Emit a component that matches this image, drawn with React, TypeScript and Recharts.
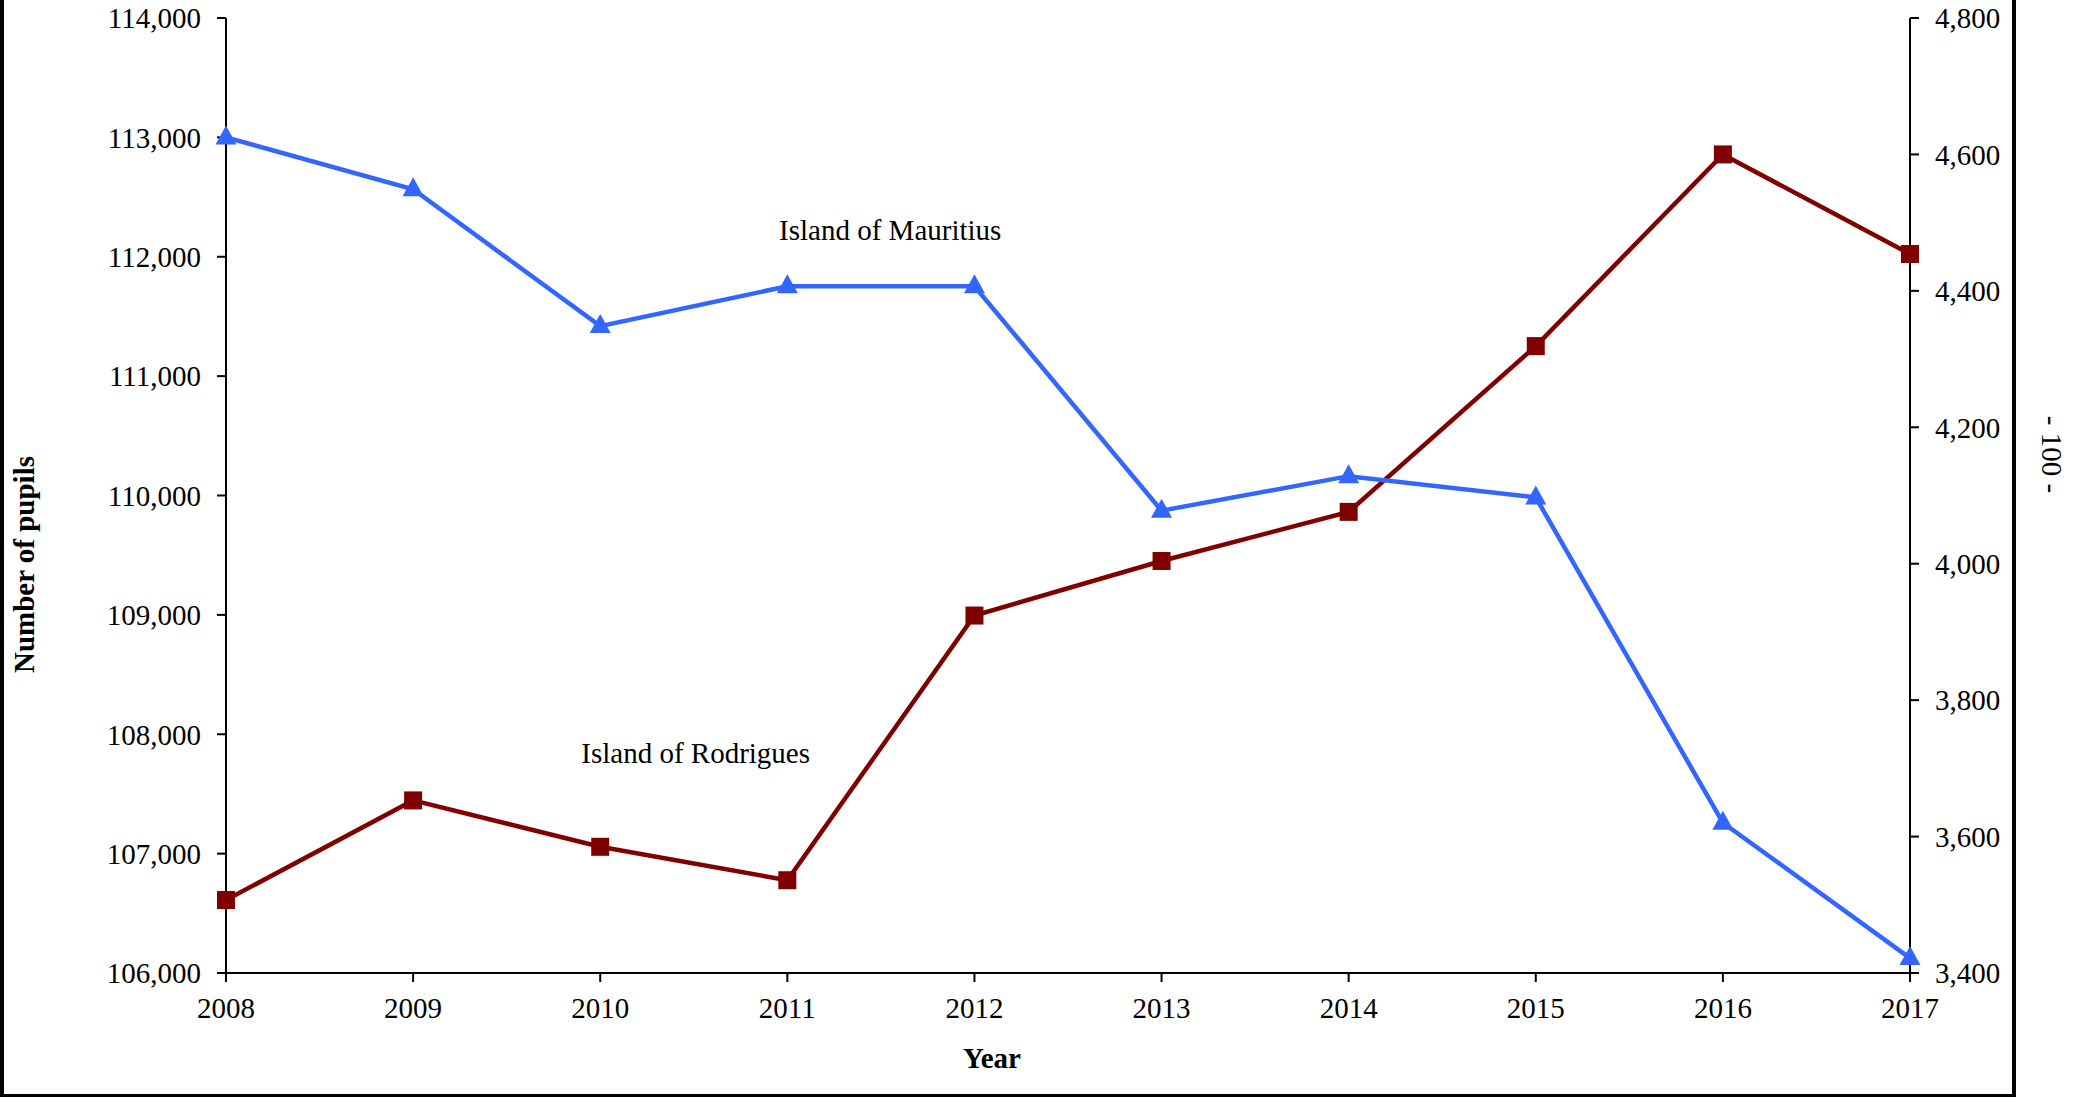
import React from 'react';
import { LineChart, Line, XAxis, YAxis, ReferenceDot, Label } from 'recharts';

const years = [2008, 2009, 2010, 2011, 2012, 2013, 2014, 2015, 2016, 2017];
const mauritius = [113000, 112565, 111419, 111753, 111753, 109873, 110162, 109984, 107259, 106125];
const rodrigues = [3507, 3653, 3585, 3536, 3924, 4004, 4076, 4319, 4600, 4454];
const leftTicks = [106000, 107000, 108000, 109000, 110000, 111000, 112000, 113000, 114000];
const rightTicks = [3400, 3600, 3800, 4000, 4200, 4400, 4600, 4800];

const data = years.map((y, i) => ({ year: y, mauritius: mauritius[i], rodrigues: rodrigues[i] }));

const FONT = '"Liberation Serif", "Times New Roman", Times, serif';
const BLUE = '#3366FF';
const RED = '#800000';
const fmt = (v: number) => v.toLocaleString('en-US');

const TriangleDot = (props: any) => {
  const { cx, cy } = props;
  if (cx == null || cy == null) return null;
  return <path d={`M${cx},${cy - 12} L${cx + 10.5},${cy + 7} L${cx - 10.5},${cy + 7} Z`} fill={BLUE} />;
};

const SquareDot = (props: any) => {
  const { cx, cy } = props;
  if (cx == null || cy == null) return null;
  return <rect x={cx - 9} y={cy - 9} width={18} height={18} fill={RED} />;
};

const tickStyle = { fill: '#000', fontSize: 29, fontFamily: FONT };

export default function App() {
  return (
    <div style={{ position: 'absolute', left: 0, top: 0, width: 2081, height: 1097, background: '#fff' }}>
      <LineChart width={2081} height={1097} data={data} margin={{ top: 18, right: 0, bottom: 0, left: 0 }}>
        <XAxis
          dataKey="year"
          type="number"
          domain={[2008, 2017]}
          ticks={years}
          height={124}
          axisLine={{ stroke: '#000', strokeWidth: 2 }}
          tickLine={{ stroke: '#000', strokeWidth: 2 }}
          tickSize={9}
          tickMargin={15}
          tick={tickStyle}
          allowDecimals={false}
        >
          <Label
            content={(p: any) => {
              const vb = p.viewBox;
              return (
                <text x={vb.x + vb.width / 2 - 76} y={vb.y + 95} textAnchor="middle" fontFamily={FONT} fontSize={29} fontWeight="bold" fill="#000">
                  Year
                </text>
              );
            }}
          />
        </XAxis>
        <YAxis
          yAxisId="left"
          orientation="left"
          width={226}
          domain={[106000, 114000]}
          ticks={leftTicks}
          tickFormatter={fmt}
          axisLine={{ stroke: '#000', strokeWidth: 2 }}
          tickLine={{ stroke: '#000', strokeWidth: 2 }}
          tickSize={9}
          tickMargin={16}
          tick={tickStyle}
        >
          <Label
            content={(p: any) => {
              const vb = p.viewBox;
              const x = vb.x + 24;
              const y = vb.y + vb.height / 2 + 69;
              return (
                <text x={x} y={y} transform={`rotate(-90, ${x}, ${y})`} textAnchor="middle" dominantBaseline="central" fontFamily={FONT} fontSize={29} fontWeight="bold" fill="#000">
                  Number of pupils
                </text>
              );
            }}
          />
        </YAxis>
        <YAxis
          yAxisId="right"
          orientation="right"
          width={171}
          domain={[3400, 4800]}
          ticks={rightTicks}
          tickFormatter={fmt}
          axisLine={{ stroke: '#000', strokeWidth: 2 }}
          tickLine={{ stroke: '#000', strokeWidth: 2 }}
          tickSize={9}
          tickMargin={16}
          tick={tickStyle}
        >
          <Label
            content={(p: any) => {
              const vb = p.viewBox;
              const x = vb.x + 142;
              const y = vb.y + vb.height / 2 - 41;
              return (
                <text x={x} y={y} transform={`rotate(90, ${x}, ${y})`} textAnchor="middle" dominantBaseline="central" fontFamily={FONT} fontSize={29} fill="#000">
                  - 100 -
                </text>
              );
            }}
          />
        </YAxis>
        <Line
          yAxisId="right"
          type="linear"
          dataKey="rodrigues"
          stroke={RED}
          strokeWidth={4.5}
          dot={<SquareDot />}
          activeDot={false}
          isAnimationActive={false}
        />
        <Line
          yAxisId="left"
          type="linear"
          dataKey="mauritius"
          stroke={BLUE}
          strokeWidth={4.5}
          dot={<TriangleDot />}
          activeDot={false}
          isAnimationActive={false}
        />
        <ReferenceDot
          yAxisId="left"
          x={2011.55}
          y={112144}
          r={0}
          fill="none"
          stroke="none"
          label={{
            content: (p: any) => {
              const vb = p.viewBox;
              return (
                <text x={vb.x + (vb.width || 0) / 2} y={vb.y + (vb.height || 0) / 2} textAnchor="middle" fontFamily={FONT} fontSize={29} fill="#000">
                  Island of Mauritius
                </text>
              );
            },
          }}
        />
        <ReferenceDot
          yAxisId="left"
          x={2010.51}
          y={107758}
          r={0}
          fill="none"
          stroke="none"
          label={{
            content: (p: any) => {
              const vb = p.viewBox;
              return (
                <text x={vb.x + (vb.width || 0) / 2} y={vb.y + (vb.height || 0) / 2} textAnchor="middle" fontFamily={FONT} fontSize={29} fill="#000">
                  Island of Rodrigues
                </text>
              );
            },
          }}
        />
      </LineChart>
      <div
        style={{
          position: 'absolute',
          left: 0,
          top: 0,
          width: 2016,
          height: 1097,
          boxSizing: 'border-box',
          borderLeft: '4px solid #000',
          borderRight: '4px solid #000',
          borderBottom: '3px solid #000',
          pointerEvents: 'none',
        }}
      />
    </div>
  );
}
